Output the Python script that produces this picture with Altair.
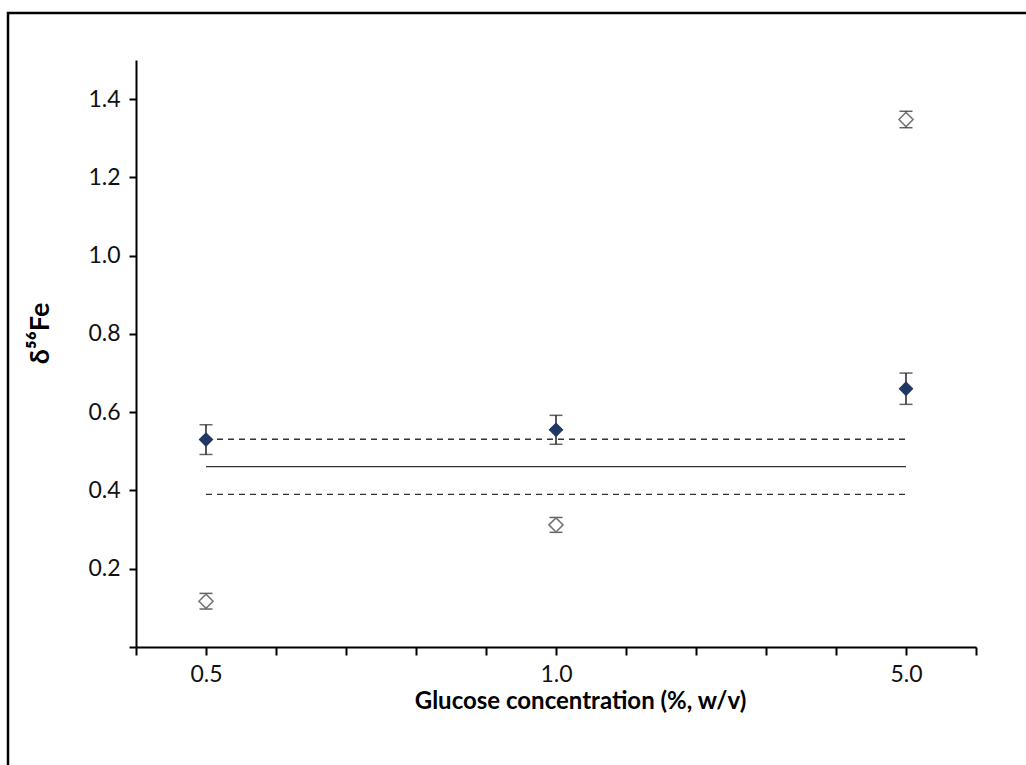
import altair as alt
import pandas as pd

# category positions on the x axis (tick slots) and their labels
positions = [1, 6, 11]
glucose_labels = ["0.5", "1.0", "5.0"]

# filled (dark) diamonds
filled_vals = [0.530, 0.555, 0.660]
filled_err = [0.038, 0.037, 0.040]

# open diamonds
open_vals = [0.117, 0.312, 1.348]
open_err = [0.020, 0.019, 0.021]

# reference band
ref_mean = 0.461
ref_upper = 0.531
ref_lower = 0.390

y_ticks = [0, 0.2, 0.4, 0.6, 0.8, 1.0, 1.2, 1.4]
x_ticks = list(range(0, 13))

FONT = "Lato"
W, H = 840, 587

pts = pd.DataFrame({
    "pos": positions * 2,
    "label": glucose_labels * 2,
    "val": filled_vals + open_vals,
    "err": filled_err + open_err,
    "series": ["filled"] * 3 + ["open"] * 3,
})
pts["lo"] = pts["val"] - pts["err"]
pts["hi"] = pts["val"] + pts["err"]

lines = pd.DataFrame({
    "x1": [positions[0]] * 3,
    "x2": [positions[-1]] * 3,
    "y": [ref_upper, ref_mean, ref_lower],
    "kind": ["dash", "solid", "dash"],
})

label_expr = " : ".join(
    f"datum.value == {p} ? '{l}'" for p, l in zip(positions, glucose_labels)
) + " : ''"

xscale = alt.Scale(domain=[0, 12], nice=False, zero=False)
yscale = alt.Scale(domain=[0, 1.5], nice=False)

xaxis = alt.Axis(
    values=x_ticks, labelExpr=label_expr, title="Glucose concentration (%, w/v)",
    grid=False, domainColor="black", domainWidth=2, tickColor="black", tickWidth=2,
    tickSize=8, labelFont=FONT, labelFontSize=23, labelColor="#111", labelPadding=8,
    titleFont=FONT, titleFontSize=24, titleFontWeight="bold", titleColor="black",
    titleX=444, titleY=54, titleBaseline="middle", titleAlign="center",
)
yaxis = alt.Axis(
    values=y_ticks, format=".1f", labelExpr="datum.value == 0 ? '' : datum.label",
    title="δ⁵⁶Fe", grid=False, domainColor="black", domainWidth=2,
    tickColor="black", tickWidth=2, tickSize=7, labelFont=FONT, labelFontSize=23,
    labelColor="#111", labelPadding=9,
    titleFont=FONT, titleFontSize=27, titleFontWeight="bold", titleColor="black",
    titleAngle=-90, titleX=-96, titleY=273, titleAlign="center", titleBaseline="middle",
)

base_lines = alt.Chart(lines)
dash_lines = base_lines.transform_filter("datum.kind == 'dash'").mark_rule(
    color="#333", strokeWidth=1.4, strokeDash=[6, 5]
).encode(
    x=alt.X("x1:Q", scale=xscale, axis=xaxis),
    x2="x2:Q",
    y=alt.Y("y:Q", scale=yscale, axis=yaxis),
)
solid_line = base_lines.transform_filter("datum.kind == 'solid'").mark_rule(
    color="#333", strokeWidth=1.4
).encode(x=alt.X("x1:Q", scale=xscale), x2="x2:Q", y=alt.Y("y:Q", scale=yscale))

base = alt.Chart(pts)
err_rule = base.mark_rule(color="#222", strokeWidth=1.5).encode(
    x=alt.X("pos:Q", scale=xscale), y=alt.Y("lo:Q", scale=yscale), y2="hi:Q"
)
cap_lo = base.mark_tick(color="#222", thickness=1.5, size=13, orient="horizontal").encode(
    x=alt.X("pos:Q", scale=xscale), y=alt.Y("lo:Q", scale=yscale)
)
cap_hi = base.mark_tick(color="#222", thickness=1.5, size=13, orient="horizontal").encode(
    x=alt.X("pos:Q", scale=xscale), y=alt.Y("hi:Q", scale=yscale)
)
filled_pts = base.transform_filter("datum.series == 'filled'").mark_point(
    shape="diamond", filled=True, size=220, color="#1F3864", opacity=1
).encode(x=alt.X("pos:Q", scale=xscale), y=alt.Y("val:Q", scale=yscale))
open_pts = base.transform_filter("datum.series == 'open'").mark_point(
    shape="diamond", filled=True, size=200, fill="white", stroke="#777",
    strokeWidth=1.6, opacity=1
).encode(x=alt.X("pos:Q", scale=xscale), y=alt.Y("val:Q", scale=yscale))

frame = alt.Chart(pd.DataFrame({"a": [0]})).mark_rect(
    fill=None, stroke="black", strokeWidth=2.5
).encode(
    x=alt.value(-128), x2=alt.value(W + 100), y=alt.value(-47), y2=alt.value(H + 200)
)

chart = alt.layer(
    frame, dash_lines, solid_line, err_rule, cap_lo, cap_hi, filled_pts, open_pts
).properties(
    width=W, height=H,
    autosize=alt.AutoSizeParams(type="none"),
    padding={"left": 136, "top": 60, "right": 50, "bottom": 118},
    background="white",
).configure_view(stroke=None)

chart.save("out.html", embed_options={"renderer": "svg", "actions": False})
